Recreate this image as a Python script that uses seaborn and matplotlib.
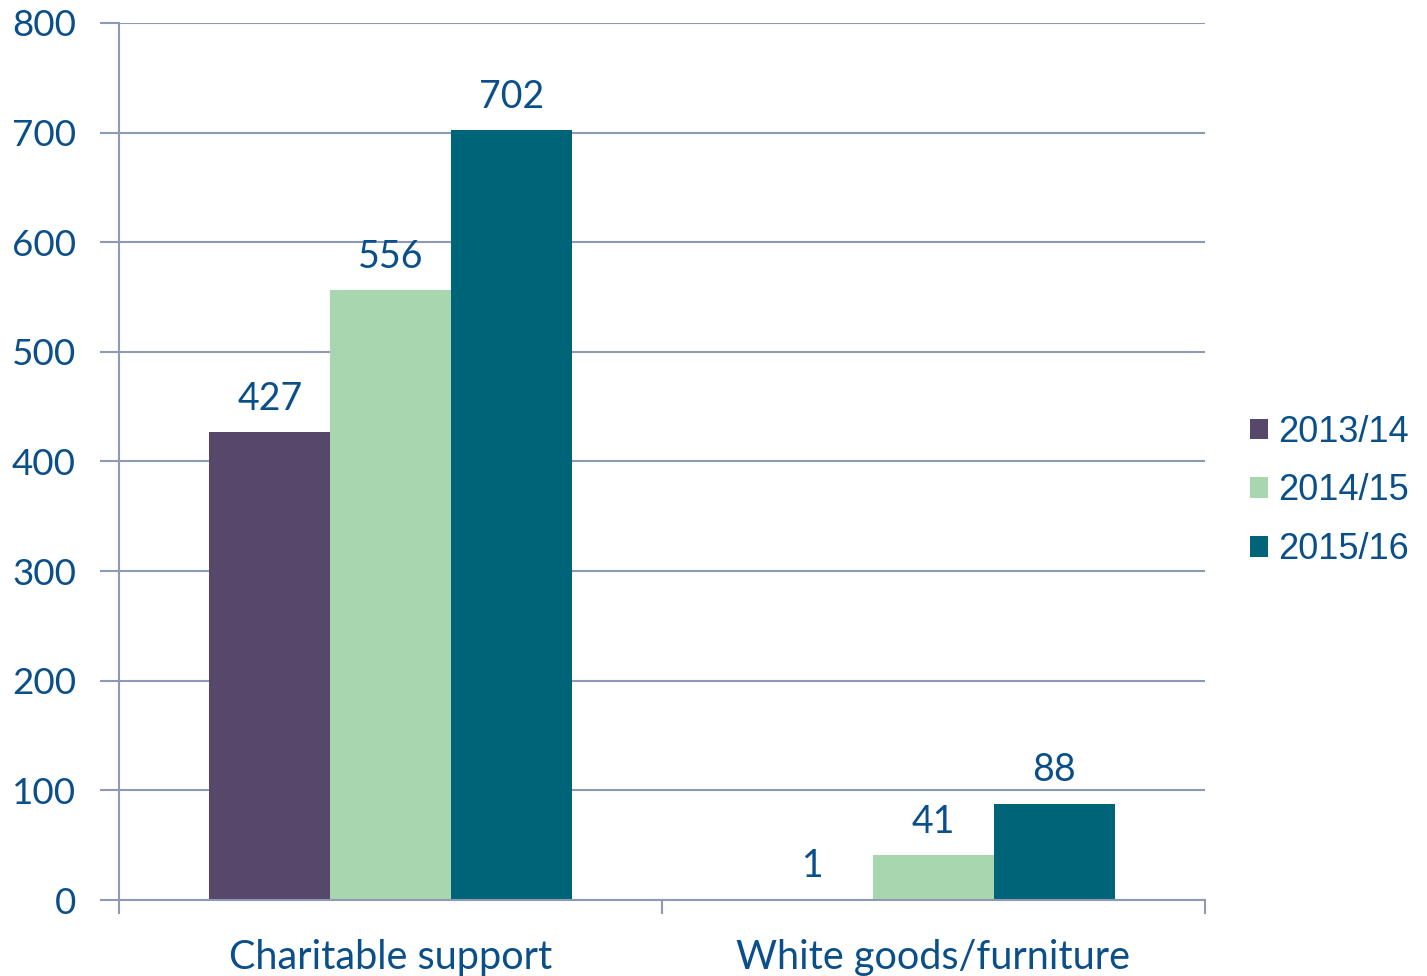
import matplotlib
matplotlib.use("Agg")
import matplotlib.pyplot as plt
import pandas as pd
import seaborn as sns

categories = ["Charitable support", "White goods/furniture"]
years = ["2013/14", "2014/15", "2015/16"]
values_2013 = [427, 1]
values_2014 = [556, 41]
values_2015 = [702, 88]
y_ticks = [0, 100, 200, 300, 400, 500, 600, 700, 800]

palette = ["#56476B", "#A8D7AF", "#006478"]
text_blue = "#0B4F8A"
grid_col = "#8E9AB5"

rows = []
for year, vals in zip(years, [values_2013, values_2014, values_2015]):
    for cat, v in zip(categories, vals):
        rows.append({"category": cat, "year": year, "value": v})
df = pd.DataFrame(rows)

sns.set_style("white")
plt.rcParams["font.family"] = ["Lato", "DejaVu Sans"]

fig = plt.figure(figsize=(14.27, 9.76), dpi=100)
ax = fig.add_axes([119 / 1427, 1 - 900 / 976, (1205 - 119) / 1427, (900 - 23) / 976])

sns.barplot(data=df, x="category", y="value", hue="year", order=categories,
            hue_order=years, palette=palette, width=0.667, saturation=1,
            linewidth=0, ax=ax, legend=True)

for container in ax.containers:
    ax.bar_label(container, padding=11, fontsize=27, color=text_blue)

ax.set_xlim(-0.5, 1.5)
ax.set_ylim(0, 800)
ax.set_yticks(y_ticks)
ax.yaxis.grid(True, color=grid_col, linewidth=1.5)
ax.set_axisbelow(True)
ax.set_xlabel("")
ax.set_ylabel("")

for side in ["top", "right"]:
    ax.spines[side].set_visible(False)
for side in ["left", "bottom"]:
    ax.spines[side].set_color(grid_col)
    ax.spines[side].set_linewidth(1.5)

ax.set_xticks([-0.5, 0.5, 1.5], minor=False)
ax.set_xticklabels(["", "", ""])
ax.tick_params(axis="x", which="major", bottom=True, length=10, width=1.5,
               color=grid_col, direction="out")
ax.set_xticks([0, 1], minor=True)
ax.set_xticklabels(categories, minor=True)
ax.tick_params(axis="x", which="minor", bottom=True, length=0, pad=28,
               labelsize=28.5, labelcolor=text_blue)
ax.tick_params(axis="y", left=True, length=14, width=1.5, color=grid_col,
               direction="out", labelsize=26.5, labelcolor=text_blue, pad=17)

handles, labels = ax.get_legend_handles_labels()
ax.legend(handles, labels, loc="center left",
          bbox_to_anchor=(1250 / 1427, 1 - 491 / 976),
          bbox_transform=fig.transFigure, borderaxespad=0, borderpad=0,
          frameon=False, handlelength=0.5, handleheight=0.5,
          handletextpad=0.28, labelspacing=0.66,
          prop={"family": "Liberation Sans", "size": 26},
          labelcolor=text_blue)

fig.savefig("out.png", dpi=100)
